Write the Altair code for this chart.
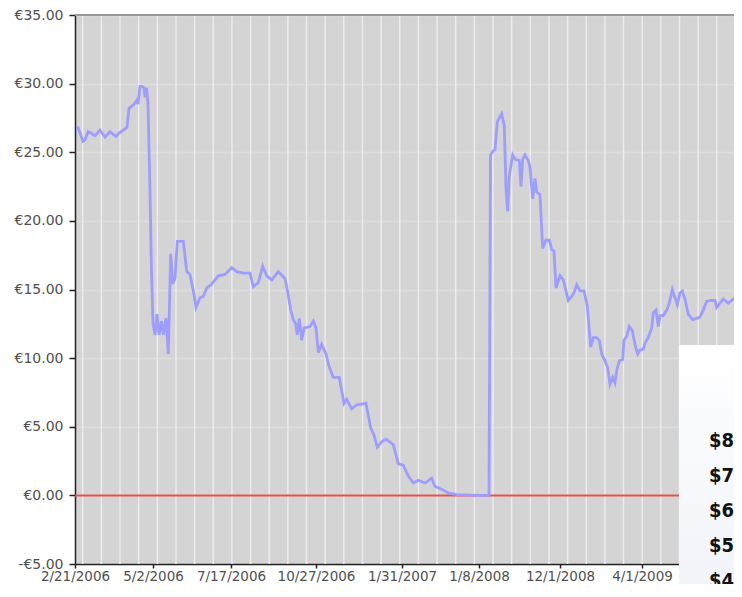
import altair as alt
import pandas as pd

# observation number (trading-day index along the category axis) and price in EUR
obs = [1, 3, 5, 8, 10, 13, 16, 20, 25, 30, 35, 41, 44, 50, 52, 54, 59, 62, 63, 65,
       67, 69, 70, 71.5, 73, 75, 76.5, 78, 80, 82, 84, 86.5, 88.3, 91, 93.3, 95.7, 97.7, 100,
       102.3, 108.3, 111.7, 115, 118.3, 121, 125, 128.3, 131.7, 136.7, 143.3, 150, 156.7,
       161.7, 168.3, 175, 178.3, 183.3, 187.7, 191.7, 196.7, 203.3, 210, 213.3, 215.7, 218.3,
       220.7, 222.3, 224.3, 226.7, 229, 235, 238.3, 241, 243.3, 246.7, 251, 254, 258.3, 264.3,
       269, 271.7, 276.7, 281.7, 291, 295.7, 299, 302.3, 306.7, 311, 318.3, 323.3, 328.3,
       333.3, 338.3, 343.3, 350, 356.7, 360, 366.7, 373.3, 381.7, 395, 405, 414, 415.5,
       418.3, 420, 422.3, 424.3, 426.7, 429.3, 431, 432.7, 434.3, 437.7, 440, 444.3, 446,
       447.7, 450, 453.3, 455, 457.7, 460, 461.7, 465, 467.7, 471, 474.3, 476.7, 479, 481,
       485, 488.3, 493.3, 496.7, 499, 501.7, 505, 509, 512.3, 515.7, 518.3, 521.7, 524.3,
       526.7, 530, 532.7, 535, 537.7, 540, 541.7, 544.3, 547.7, 549, 551.7, 554.3, 557.3,
       560, 562.7, 565, 568.3, 570, 573.3, 576.7, 578.3, 581, 583.3, 585, 588.3, 591.7,
       594.3, 597.3, 600, 602.3, 605, 607.3, 610, 613.3, 617.7, 621.7, 625, 628.3, 631.7,
       636.7, 640, 641.7, 645, 648.3, 653.3, 658.3, 663.3, 667]
price = [26.8, 26.8, 26.4, 25.8, 25.9, 26.5, 26.4, 26.2, 26.6, 26.1, 26.5, 26.15, 26.4, 26.7,
         26.8, 28.2, 28.5, 28.8, 28.5, 29.8, 29.8, 29.7, 29.0, 29.7, 28.6, 22.1, 16.3, 12.5,
         11.7, 13.2, 11.7, 12.7, 11.7, 12.9, 10.3, 17.6, 15.4, 15.8, 18.5, 18.5, 16.3, 16.1,
         14.9, 13.7, 14.4, 14.5, 15.1, 15.4, 16.0, 16.1, 16.6, 16.3, 16.2, 16.2, 15.2, 15.5,
         16.7, 16.0, 15.7, 16.3, 15.8, 14.6, 13.5, 12.8, 12.5, 11.7, 12.9, 11.3, 12.2, 12.3,
         12.7, 12.2, 10.4, 11.0, 10.3, 9.4, 8.6, 8.6, 6.7, 7.0, 6.3, 6.6, 6.7, 4.9, 4.4, 3.5,
         3.9, 4.1, 3.7, 2.3, 2.2, 1.4, 0.9, 1.1, 0.9, 1.25, 0.65, 0.45, 0.17, 0.05, 0.02, 0.0,
         0.0, 24.8, 25.1, 25.2, 27.2, 27.5, 27.8, 26.9, 22.3, 20.7, 23.3, 24.8, 24.5, 24.4,
         22.5, 24.5, 24.8, 24.4, 23.9, 21.6, 23.1, 22.1, 21.9, 18.0, 18.6, 18.6, 17.9, 17.8,
         15.1, 16.0, 15.7, 14.2, 14.5, 14.75, 15.35, 14.9, 14.9, 13.8, 10.8, 11.5, 11.5, 11.3,
         10.3, 9.8, 9.3, 8.1, 8.6, 8.2, 9.1, 9.8, 9.9, 11.3, 11.6, 12.3, 12.0, 11.0, 10.3,
         10.6, 10.65, 11.1, 11.5, 12.2, 13.3, 13.5, 12.3, 13.1, 13.1, 13.5, 14.0, 15.0, 14.4,
         13.9, 14.75, 14.9, 14.3, 13.2, 12.8, 12.9, 13.0, 13.5, 14.15, 14.2, 14.2, 13.7, 14.0,
         14.3, 14.0, 14.3, 14.6, 15.2]

tick_obs = [0, 78, 156, 241, 327, 404, 485, 567]
tick_dates = ["2/21/2006", "5/2/2006", "7/17/2006", "10/27/2006", "1/31/2007",
              "1/8/2008", "12/1/2008", "4/1/2009"]
y_ticks = [-5, 0, 5, 10, 15, 20, 25, 30, 35]

# fragment of an overlapping picture in the lower-right corner
box_labels = ["$8", "$7", "$6", "$5", "$4"]
box_amounts = [8, 7, 6, 5, 4]

W, H = 659, 549
df = pd.DataFrame({"obs": obs, "price": price})
grid_df = pd.DataFrame({"g": [7.7 + 18.65 * k for k in range(36)]})
zero_df = pd.DataFrame({"zero": [0]})
top_df = pd.DataFrame({"top": [35]})
box_df = pd.DataFrame({"label": box_labels, "amount": box_amounts})

xscale = alt.Scale(domain=[0, W], nice=False, zero=False)
yscale = alt.Scale(domain=[-5, 35], nice=False, zero=False)

label_expr = ("[" + ",".join(f"'{d}'" for d in tick_dates) + "][indexof(["
              + ",".join(str(t) for t in tick_obs) + "], datum.value)]")

xaxis = alt.Axis(values=tick_obs, labelExpr=label_expr, grid=False, title=None,
                 tickSize=4, labelPadding=1, labelFlush=False, labelOverlap=False,
                 labelFontSize=13.5)
yaxis = alt.Axis(values=y_ticks, title=None, grid=True, gridColor="#dedede", gridWidth=1.5,
                 tickSize=6, labelPadding=6,
                 labelExpr="datum.value < 0 ? '-€' + format(-datum.value, '.2f') : '€' + format(datum.value, '.2f')")

grid = alt.Chart(grid_df).mark_rule(color="#ececf0", strokeWidth=1.5, clip=True).encode(
    x=alt.X("g:Q", scale=xscale, axis=xaxis))
zero_line = alt.Chart(zero_df).mark_rule(color="#e85050", strokeWidth=2).encode(
    y=alt.Y("zero:Q", scale=yscale, axis=yaxis))
top_line = alt.Chart(top_df).mark_rule(color="#9a9a9a", strokeWidth=2).encode(
    y=alt.Y("top:Q", scale=yscale, axis=yaxis))
line = alt.Chart(df).mark_line(color="#9d9dff", strokeWidth=2.8, clip=True).encode(
    x=alt.X("obs:Q", scale=xscale, axis=xaxis),
    y=alt.Y("price:Q", scale=yscale, axis=yaxis))

main = alt.layer(grid, zero_line, line, top_line)

box = alt.Chart(zero_df).mark_rect(
    color=alt.Gradient(gradient="linear", x1=0, y1=0, x2=0, y2=1,
                       stops=[alt.GradientStop(color="#ffffff", offset=0),
                              alt.GradientStop(color="#eef1f8", offset=1)]),
    clip=False).encode(
    x=alt.value(604), x2=alt.value(700), y=alt.value(330), y2=alt.value(620))

box_text = alt.Chart(box_df).mark_text(
    align="left", baseline="middle",
    font="Liberation Sans Narrow, DejaVu Sans Condensed, Liberation Sans",
    fontWeight="bold", fontSize=20, color="#111111", clip=False).encode(
    x=alt.value(634),
    y=alt.Y("amount:Q", scale=alt.Scale(domain=[4, 8], range=[566, 426]), axis=None),
    text="label:N")

chart = alt.layer(main, box, box_text).resolve_scale(y="independent").properties(
    width=W, height=H,
    autosize=alt.AutoSizeParams(type="none"),
    padding={"left": 67, "top": 7, "right": 0, "bottom": 20},
    background="white",
).configure_view(fill="#d4d4d4", stroke=None).configure_axis(
    domainColor="#222222", domainWidth=1.5, tickColor="#222222", tickWidth=1.5,
    labelFont="DejaVu Sans", labelFontSize=14, labelColor="#505050")

chart.save("out.html", embed_options={"renderer": "svg", "actions": False})
